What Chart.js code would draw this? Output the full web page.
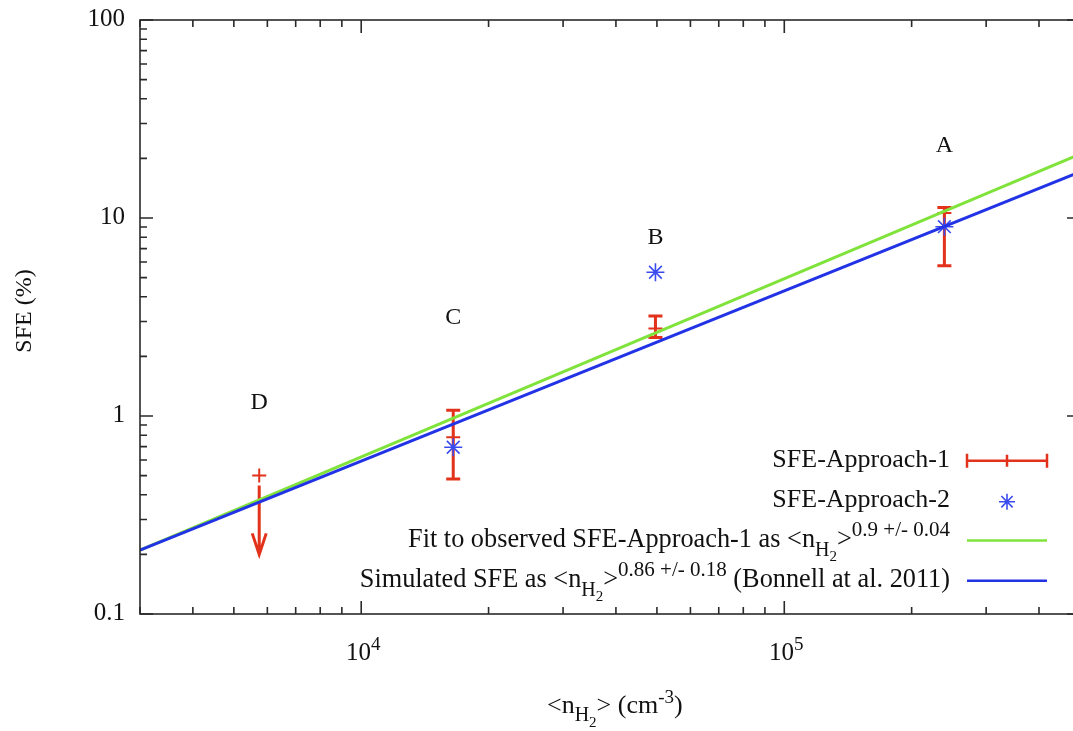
<!DOCTYPE html>
<html>
<head>
<meta charset="utf-8">
<script src="https://cdn.jsdelivr.net/npm/chart.js@4"></script>
<style>
  html, body { margin: 0; padding: 0; background: #fff; overflow: hidden; }
  #wrap { width: 1090px; height: 731px; }
</style>
</head>
<body>
<div id="wrap"><canvas id="grafico" width="1090" height="731"></canvas></div>
<script>
// regiões e densidade media <n_H2> (cm^-3)
const regions = ['D', 'C', 'B', 'A'];
const density = [5740, 16500, 49600, 239000];

// SFE-Approach-1 (%) com barras de erro; D e so limite superior
const sfe1 = [0.50, 0.78, 2.77, 10.6];
const sfe1Low = [0.20, 0.48, 2.49, 5.74];
const sfe1High = [0.50, 1.07, 3.20, 11.3];
const upperLimit = [true, false, false, false];

// SFE-Approach-2 (%)
const sfe2 = [null, 0.695, 5.32, 9.04];

// onde fica a letra de cada regiao (valor de SFE)
const labelSfe = [1.09, 2.91, 7.39, 21.6];

// retas de ajuste (log-log), pontos extremos
const fitX = [3000, 500000];
const fitObserved = [0.21, 21.0];
const fitSimulated = [0.21, 17.1];

const xTickLabels = [[1e4, '10', '4'], [1e5, '10', '5']];
const yTickLabels = [[0.1, '0.1'], [1, '1'], [10, '10'], [100, '100']];

const RED = '#e3321b';
const BLUE_STAR = '#3a4cf0';
const GREEN = '#80e33c';
const BLUE = '#2233e6';
const FONT = '"Liberation Serif", "Times New Roman", serif';

function richText(c, parts, x, y, align) {
  let w = 0;
  parts.forEach(p => { c.font = p.s + 'px ' + FONT; w += c.measureText(p.t).width; });
  let cx = align === 'right' ? x - w : (align === 'center' ? x - w / 2 : x);
  c.textAlign = 'left';
  c.textBaseline = 'alphabetic';
  parts.forEach(p => {
    c.font = p.s + 'px ' + FONT;
    c.fillText(p.t, cx, y + (p.dy || 0));
    cx += c.measureText(p.t).width;
  });
}

function drawStar(c, x, y, r) {
  c.beginPath();
  c.moveTo(x - r, y); c.lineTo(x + r, y);
  c.moveTo(x, y - r); c.lineTo(x, y + r);
  const d = r * 0.7071;
  c.moveTo(x - d, y - d); c.lineTo(x + d, y + d);
  c.moveTo(x - d, y + d); c.lineTo(x + d, y - d);
  c.stroke();
}

const gnuplotLook = {
  id: 'gnuplotLook',
  beforeDatasetsDraw(chart) {
    const c = chart.ctx;
    const xs = chart.scales.x, ys = chart.scales.y;
    c.save();
    // barras de erro da Approach-1
    c.strokeStyle = RED;
    c.lineWidth = 3;
    c.lineCap = 'butt';
    density.forEach((d, i) => {
      const px = xs.getPixelForValue(d);
      const pv = ys.getPixelForValue(sfe1[i]);
      const pl = ys.getPixelForValue(sfe1Low[i]);
      const ph = ys.getPixelForValue(sfe1High[i]);
      c.beginPath();
      if (upperLimit[i]) {
        c.moveTo(px, pv + 10); c.lineTo(px, pl);
        c.moveTo(px - 7, pl - 21); c.lineTo(px, pl); c.lineTo(px + 7, pl - 21);
      } else {
        c.moveTo(px, ph); c.lineTo(px, pl);
        c.moveTo(px - 7, ph); c.lineTo(px + 7, ph);
        c.moveTo(px - 7, pl); c.lineTo(px + 7, pl);
      }
      c.stroke();
    });
    c.restore();
  },
  afterDraw(chart) {
    const c = chart.ctx;
    const a = chart.chartArea;
    const xs = chart.scales.x, ys = chart.scales.y;
    c.save();
    // moldura
    c.strokeStyle = '#2a2a2a';
    c.lineWidth = 1.6;
    c.strokeRect(a.left, a.top, a.right - a.left, a.bottom - a.top);
    // ticks para dentro, nos quatro lados
    c.beginPath();
    for (let k = 3; k <= 5; k++) {
      for (let m = 1; m <= 9; m++) {
        const v = m * Math.pow(10, k);
        if (v < xs.min || v > xs.max) continue;
        const p = xs.getPixelForValue(v);
        const len = m === 1 ? 13 : 7;
        c.moveTo(p, a.bottom); c.lineTo(p, a.bottom - len);
        c.moveTo(p, a.top); c.lineTo(p, a.top + len);
      }
    }
    for (let k = -1; k <= 2; k++) {
      for (let m = 1; m <= 9; m++) {
        const v = m * Math.pow(10, k);
        if (v < ys.min * 0.999 || v > ys.max * 1.001) continue;
        const p = ys.getPixelForValue(v);
        const len = m === 1 ? 13 : 7;
        c.moveTo(a.left, p); c.lineTo(a.left + len, p);
        c.moveTo(a.right, p); c.lineTo(a.right - len, p);
      }
    }
    c.stroke();

    c.fillStyle = '#111';
    // rotulos dos eixos
    c.font = '25px ' + FONT;
    c.textAlign = 'right';
    c.textBaseline = 'alphabetic';
    yTickLabels.forEach(t => c.fillText(t[1], 125, ys.getPixelForValue(t[0]) + 6));
    xTickLabels.forEach(t => {
      richText(c, [{t: t[1], s: 25}, {t: t[2], s: 19, dy: -10}], xs.getPixelForValue(t[0]) + 2, 660, 'center');
    });

    // titulos
    c.save();
    c.translate(31, 311);
    c.rotate(-Math.PI / 2);
    c.font = '24px ' + FONT;
    c.textAlign = 'center';
    c.fillText('SFE (%)', 0, 0);
    c.restore();
    richText(c, [
      {t: '<n', s: 26}, {t: 'H', s: 20, dy: 8}, {t: '2', s: 15, dy: 14},
      {t: '> (cm', s: 26}, {t: '-3', s: 19, dy: -10}, {t: ')', s: 26}
    ], 547, 713, 'left');

    // letras das regioes
    c.font = '24px ' + FONT;
    c.textAlign = 'center';
    regions.forEach((r, i) => c.fillText(r, xs.getPixelForValue(density[i]), ys.getPixelForValue(labelSfe[i])));

    // legenda
    const tx = 950, x0 = 967, x1 = 1047, xm = 1007;
    const rows = [460.7, 501.7, 540.5, 580.7];
    richText(c, [{t: 'SFE-Approach-1', s: 26}], tx, rows[0] + 6, 'right');
    richText(c, [{t: 'SFE-Approach-2', s: 26}], tx, rows[1] + 5, 'right');
    richText(c, [
      {t: 'Fit to observed SFE-Approach-1 as <n', s: 26.3}, {t: 'H', s: 20, dy: 9}, {t: '2', s: 15, dy: 14},
      {t: '>', s: 26.3}, {t: '0.9 +/- 0.04', s: 21, dy: -11}
    ], tx, rows[2] + 6, 'right');
    richText(c, [
      {t: 'Simulated SFE as <n', s: 26.3}, {t: 'H', s: 20, dy: 9}, {t: '2', s: 15, dy: 14},
      {t: '>', s: 26.3}, {t: '0.86 +/- 0.18', s: 21, dy: -11}, {t: ' (Bonnell at al. 2011)', s: 26.3}
    ], tx, rows[3] + 6, 'right');

    c.lineWidth = 2.5;
    c.strokeStyle = RED;
    c.beginPath();
    c.moveTo(x0, rows[0]); c.lineTo(x1, rows[0]);
    c.moveTo(x0, rows[0] - 7); c.lineTo(x0, rows[0] + 7);
    c.moveTo(x1, rows[0] - 7); c.lineTo(x1, rows[0] + 7);
    c.moveTo(xm, rows[0] - 6); c.lineTo(xm, rows[0] + 6);
    c.stroke();
    c.strokeStyle = BLUE_STAR;
    c.lineWidth = 1.6;
    drawStar(c, xm, rows[1], 8);
    c.lineWidth = 2.5;
    c.strokeStyle = GREEN;
    c.beginPath(); c.moveTo(x0, rows[2]); c.lineTo(x1, rows[2]); c.stroke();
    c.strokeStyle = BLUE;
    c.beginPath(); c.moveTo(x0, rows[3]); c.lineTo(x1, rows[3]); c.stroke();
    c.restore();
  }
};

const toPoints = (xsArr, ysArr) => xsArr.map((x, i) => ({x: x, y: ysArr[i]})).filter(p => p.y !== null);

const ctx = document.getElementById('grafico').getContext('2d');
new Chart(ctx, {
  type: 'scatter',
  data: {
    datasets: [
      {
        label: 'SFE-Approach-1',
        data: toPoints(density, sfe1),
        pointStyle: 'cross', pointRadius: 7, borderWidth: 2,
        borderColor: RED, backgroundColor: RED, order: 4
      },
      {
        label: 'SFE-Approach-2',
        data: toPoints(density, sfe2),
        pointStyle: 'star', pointRadius: 9, borderWidth: 1.6,
        borderColor: BLUE_STAR, backgroundColor: BLUE_STAR, order: 3
      },
      {
        label: 'Fit to observed SFE-Approach-1',
        data: toPoints(fitX, fitObserved),
        showLine: true, pointRadius: 0, borderWidth: 3,
        borderColor: GREEN, backgroundColor: GREEN, order: 2
      },
      {
        label: 'Simulated SFE',
        data: toPoints(fitX, fitSimulated),
        showLine: true, pointRadius: 0, borderWidth: 3,
        borderColor: BLUE, backgroundColor: BLUE, order: 1
      }
    ]
  },
  options: {
    responsive: false,
    animation: false,
    layout: { autoPadding: false, padding: { left: 140, top: 20, right: 10, bottom: 117 } },
    plugins: { legend: { display: false }, tooltip: { enabled: false } },
    scales: {
      x: { type: 'logarithmic', min: 3000, max: 500000, display: false },
      y: { type: 'logarithmic', min: 0.1, max: 100, display: false }
    }
  },
  plugins: [gnuplotLook]
});
</script>
</body>
</html>
